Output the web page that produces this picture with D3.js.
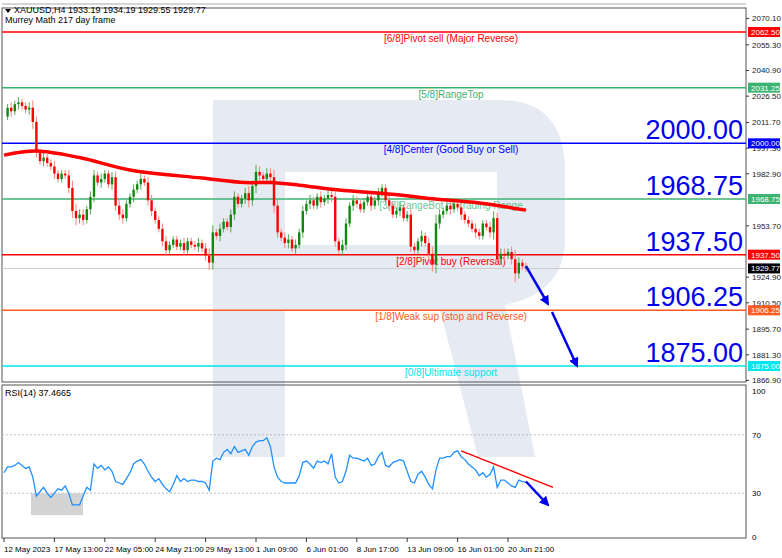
<!DOCTYPE html><html><head><meta charset="utf-8"><script src="https://cdn.jsdelivr.net/npm/d3@7"></script>
<style>body{margin:0;background:#fff}text{font-family:"Liberation Sans",Arial,sans-serif}</style></head><body><svg id="c" width="782" height="558"></svg>
<script>
const closes=[2015,2020,2018,2022,2023,2021,2019,2020,2012,1995,1990,1992,1989,1987,1983,1980,1983,1982,1975,1962,1958,1960,1957,1963,1970,1982,1978,1980,1983,1977,1981,1965,1960,1958,1966,1970,1974,1977,1980,1978,1968,1962,1957,1952,1945,1940,1943,1946,1942,1944,1940,1945,1943,1942,1944,1941,1937,1933,1950,1948,1952,1956,1953,1960,1970,1966,1969,1972,1968,1976,1984,1982,1980,1983,1981,1965,1950,1947,1944,1946,1941,1943,1950,1962,1966,1968,1965,1970,1967,1969,1971,1970,1945,1940,1943,1955,1965,1968,1966,1963,1967,1970,1965,1968,1972,1975,1968,1965,1960,1962,1964,1958,1960,1942,1940,1945,1948,1944,1938,1932,1955,1960,1962,1965,1963,1966,1964,1960,1957,1955,1952,1950,1948,1955,1953,1950,1958,1935,1938,1937,1939,1935,1927,1933,1931,1929.77];
const wicks=[3,2,3,2,3,2,2,3,4,3,2,3,2,2,3,2,2,2,3,4,4,3,3,2,3,3,2,3,2,2,3,3,3,3,2,2,3,2,3,2,3,3,2,2,3,3,2,2,2,2,3,2,2,2,3,2,3,4,4,2,3,2,2,3,3,2,2,3,4,3,4,3,2,3,3,4,3,2,3,3,2,3,2,3,2,3,2,2,3,2,3,3,3,2,3,3,2,3,2,2,2,2,3,2,3,2,2,3,2,2,3,2,2,3,2,2,3,2,3,4,5,3,2,2,3,2,2,3,2,2,2,3,2,2,2,3,4,3,3,3,2,3,5,3,2,2];
const maIdx=[0,9,21,35,55,67,74,82,93,110,118,132,145];
const maVals=[1993.4,1995.7,1992,1985,1980.5,1978,1978,1976.5,1973.8,1971,1969,1966.5,1962.5];
const rsi=[44,48,48,49,51,49,47,48,41,28,31,34,30,27,30,33,32,35,30,22,22,22,28,34,32,50,47,49,46,48,45,38,37,36,40,44,50,52,53,50,45,41,38,40,36,33,31,36,42,38,40,38,39,39,38,38,37,32,52,54,53,58,60,57,62,58,59,60,56,62,65,66,66,68,62,48,41,38,37,37,37,37,42,51,52,50,47,52,51,52,50,57,41,37,38,45,56,54,54,53,52,54,49,50,55,58,49,48,51,52,53,52,45,38,37,43,45,41,36,33,46,54,54,55,55,58,59,55,53,50,48,46,42,44,41,43,48,34,39,39,37,35,34,39,38,37.47];
const levels=[2062.5,2031.25,2000,1968.75,1937.5,1906.25,1875];
const levelColors=["#ff0000","#3cb371","#0000ff","#3cb371","#ff0000","#ff5a1f","#00e5ee"];
const levelNames=["[6/8]Pivot sell (Major Reverse)","[5/8]RangeTop","[4/8]Center (Good Buy or Sell)","[3/8]RangeBot of Trading Range","[2/8]Pivot buy (Reversal)","[1/8]Weak sup (stop and Reverse)","[0/8]Ultimate support"];
const bigLabels=["2000.00","1968.75","1937.50","1906.25","1875.00"];
const priceTicks=[2070.10,2055.30,2040.90,2026.50,2011.70,1997.30,1982.90,1953.70,1924.90,1910.50,1895.70,1881.30,1866.90];
const timeLabels=["12 May 2023","17 May 13:00","22 May 05:00","24 May 21:00","29 May 13:00","1 Jun 09:00","6 Jun 01:00","8 Jun 17:00","13 Jun 09:00","16 Jun 01:00","20 Jun 21:00"];
const lastPrice=1929.77;

const svg=d3.select("#c");
const R=746;
const x=d3.scaleLinear().domain([0,1]).range([4,7.6]);
const y=d3.scaleLinear().domain([1875,2062.5]).range([366,32]);
const yr=d3.scaleLinear().domain([0,100]).range([537,391]);

const wm=svg.append("g").attr("fill","#e5eaf3");
wm.append("path").attr("fill-rule","evenodd").attr("d",
 "M213,100 L500,100 Q565,100 565,172 L565,240 Q565,292 505,305 L535,457 L478,457 L440,310 L285,310 L285,457 L213,457 Z M285,172 L497,172 L497,245 L285,245 Z");

svg.append("rect").attr("x",2).attr("y",8).attr("width",R-2).attr("height",374).attr("fill","none").attr("stroke","#555");
svg.append("rect").attr("x",2).attr("y",385).attr("width",R-2).attr("height",153).attr("fill","none").attr("stroke","#555");
svg.append("line").attr("x1",2).attr("x2",R).attr("y1",4).attr("y2",4).attr("stroke","#aaa");

levels.forEach((l,i)=>{
 svg.append("line").attr("x1",2).attr("x2",R).attr("y1",y(l)).attr("y2",y(l)).attr("stroke",levelColors[i]).attr("stroke-width",1.5);
 svg.append("text").attr("x",451).attr("y",y(l)+10).attr("text-anchor","middle").attr("font-size",10).attr("fill",levelColors[i]).attr("opacity",i==3?0.75:1).text(levelNames[i]);
});
bigLabels.forEach((t,i)=>{
 svg.append("text").attr("x",743).attr("y",y(levels[i+2])-4).attr("text-anchor","end").attr("font-size",27).attr("fill","#0000ee").text(t);
});
svg.append("line").attr("x1",2).attr("x2",R).attr("y1",y(lastPrice)).attr("y2",y(lastPrice)).attr("stroke","#ccc");

const g=svg.append("g");
closes.forEach((c,i)=>{
 if(i==0)return;
 const o=closes[i-1],up=c>=o;
 const hi=Math.max(o,c)+wicks[i],lo=Math.min(o,c)-wicks[i];
 const col=up?"#118811":"#ff0000";
 g.append("line").attr("x1",x(i)).attr("x2",x(i)).attr("y1",y(hi)).attr("y2",y(lo)).attr("stroke",up?"#55aa55":"#ff8080");
 const t=y(Math.max(o,c)),b=y(Math.min(o,c));
 g.append("rect").attr("x",x(i)-1.2).attr("y",t).attr("width",2.4).attr("height",Math.max(1,b-t)).attr("fill",col);
});
svg.append("path").datum(maIdx.map((d,i)=>[d,maVals[i]])).attr("fill","none").attr("stroke","#ff0000").attr("stroke-width",3.5)
 .attr("d",d3.line().x(d=>x(d[0])).y(d=>y(d[1])).curve(d3.curveCatmullRom));

const defs=svg.append("defs");
defs.append("marker").attr("id","ah").attr("viewBox","0 0 10 10").attr("refX",8).attr("refY",5).attr("markerWidth",4).attr("markerHeight",4).attr("orient","auto")
 .append("path").attr("d","M0,0L10,5L0,10Z").attr("fill","#0000ee");
const arrow=(x1,y1,x2,y2)=>svg.append("line").attr("x1",x1).attr("y1",y1).attr("x2",x2).attr("y2",y2).attr("stroke","#0000ee").attr("stroke-width",2.5).attr("marker-end","url(#ah)");
arrow(x(145),y(1931),548,304);
arrow(552,312,577,366);

const ax=svg.append("g").attr("font-size",8).attr("fill","#222");
priceTicks.forEach(p=>{
 ax.append("line").attr("x1",R).attr("x2",R+3).attr("y1",y(p)).attr("y2",y(p)).attr("stroke","#333");
 ax.append("text").attr("x",752).attr("y",y(p)+3).text(p.toFixed(2));
});
const tag=(p,col,txtCol)=>{
 svg.append("rect").attr("x",748).attr("y",y(p)-5).attr("width",32).attr("height",10).attr("fill",col);
 svg.append("text").attr("x",751).attr("y",y(p)+3).attr("font-size",8).attr("fill",txtCol).text(p.toFixed(2));
};
levels.forEach((l,i)=>tag(l,levelColors[i],"#fff"));
tag(lastPrice,"#000","#fff");

svg.append("path").attr("d","M5,9 L11,9 L8,13Z").attr("fill","#000");
svg.append("text").attr("x",14).attr("y",13).attr("font-size",9).text("XAUUSD,H4  1933.19 1934.19 1929.55 1929.77");
svg.append("text").attr("x",5).attr("y",23).attr("font-size",9).text("Murrey Math 217 day frame");

[70,30].forEach(v=>svg.append("line").attr("x1",2).attr("x2",R).attr("y1",yr(v)).attr("y2",yr(v)).attr("stroke","#bbb").attr("stroke-dasharray","2,2"));
svg.append("rect").attr("x",31).attr("y",yr(30)).attr("width",52).attr("height",yr(15)-yr(30)).attr("fill","#d3d3d3");
svg.append("path").datum(rsi).attr("fill","none").attr("stroke","#1e90ff").attr("stroke-width",1.3)
 .attr("d",d3.line().x((d,i)=>x(i)).y(d=>yr(d)));
svg.append("line").attr("x1",x(127)).attr("y1",yr(59)).attr("x2",553).attr("y2",yr(34)).attr("stroke","#ff0000").attr("stroke-width",1.5);
arrow(x(145),yr(38),548,505);
svg.append("text").attr("x",5).attr("y",396).attr("font-size",9).text("RSI(14) 37.4665");
[100,70,30,0].forEach(v=>svg.append("text").attr("x",752).attr("y",yr(v)+3).attr("font-size",8).text(v));

timeLabels.forEach((t,i)=>{
 const xx=x(i*14);
 svg.append("line").attr("x1",xx).attr("x2",xx).attr("y1",538).attr("y2",542).attr("stroke","#333");
 svg.append("text").attr("x",xx).attr("y",552).attr("font-size",8).text(t);
});
</script></body></html>
